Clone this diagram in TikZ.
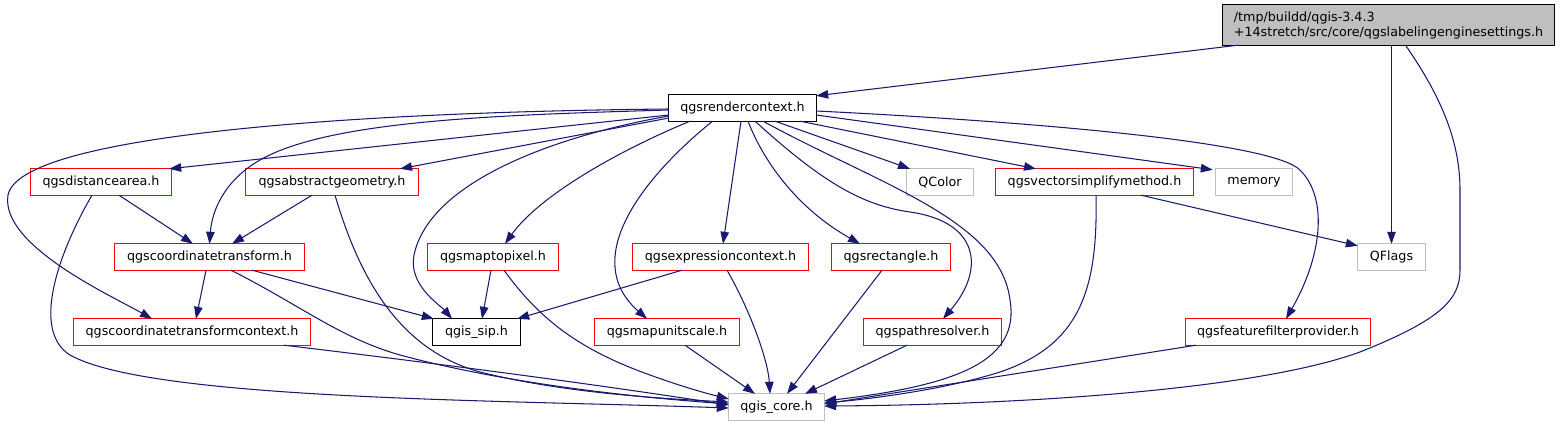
\documentclass[tikz,border=0pt]{standalone}
\usepackage{fontspec}
\setmainfont{DejaVu Sans}
\usetikzlibrary{arrows.meta,calc}
\definecolor{edgeblue}{HTML}{191970}
\definecolor{grayline}{HTML}{BFBFBF}
\definecolor{redline}{HTML}{FF0000}
\definecolor{blackline}{HTML}{000000}
\begin{document}
\begin{tikzpicture}[x=1pt,y=-1pt,
  fnode/.style={minimum height=26pt, inner sep=0pt, text=black,
                font=\fontsize{12.7}{15}\selectfont},
  frame/.style={line width=1pt},
  dep/.style={color=edgeblue, draw=edgeblue, line width=1.05pt, -{Triangle[length=12pt,width=8.5pt]}}]
\useasboundingbox (0,0) rectangle (1562,425);
% nodes
\node[fnode, minimum width=140pt] (da) at (101,182) {qgsdistancearea.h};
\node[fnode, minimum width=172pt] (ag) at (332,182) {qgsabstractgeometry.h};
\node[fnode, minimum width=66pt] (qcolor) at (940,182) {QColor};
\node[fnode, minimum width=197pt] (vs) at (1094.5,182) {qgsvectorsimplifymethod.h};
\node[fnode, minimum width=76pt] (mem) at (1254,182) {memory};
\node[fnode, minimum width=189pt] (ct) at (209.5,257) {qgscoordinatetransform.h};
\node[fnode, minimum width=130pt] (mtp) at (493,257) {qgsmaptopixel.h};
\node[fnode, minimum width=175pt] (ec) at (720.5,257) {qgsexpressioncontext.h};
\node[fnode, minimum width=118pt] (rect) at (891,257) {qgsrectangle.h};
\node[fnode, minimum width=67pt] (qflags) at (1391.5,257) {QFlags};
\node[fnode, minimum width=236pt] (ctc) at (192,332) {qgscoordinatetransformcontext.h};
\node[fnode, minimum width=144pt] (mus) at (667,332) {qgsmapunitscale.h};
\node[fnode, minimum width=137pt] (pr) at (932.5,332) {qgspathresolver.h};
\node[fnode, minimum width=184pt] (ff) at (1278,332) {qgsfeaturefilterprovider.h};
\node[fnode, minimum width=95pt] (core) at (776.5,407) {qgis\_core.h};
\node[fnode, minimum width=87pt] (sip) at (476.5,332) {qgis\_sip.h};
\node[fnode, minimum width=147pt] (rc) at (742.5,108) {qgsrendercontext.h};
\fill[grayline] (1223,5) rectangle (1554,45);
\node[fnode, minimum width=331pt, minimum height=40pt, align=left]
  (root) at (1388.5,25) {/tmp/buildd/qgis-3.4.3\\+14stretch/src/core/qgslabelingenginesettings.h};
% frames
\foreach \n in {da,ag,vs,ct,mtp,ec,rect,ctc,mus,pr,ff}
  \draw[frame, draw=redline] (\n.north west) rectangle (\n.south east);
\foreach \n in {qcolor,mem,qflags,core}
  \draw[frame, draw=grayline] (\n.north west) rectangle (\n.south east);
\foreach \n in {sip,rc,root}
  \draw[frame, draw=blackline] (\n.north west) rectangle (\n.south east);
% edges from root
\draw[dep] ([xshift=-150.5pt]root.south) -- ([yshift=-1pt]rc.north east);
\draw[dep] (root.south -| qflags.north) -- (qflags.north);
\draw[dep] ([xshift=17pt]root.south) .. controls (1440,95) and (1460,140) .. (1460,190)
  -- (1460,270) .. controls (1460,300) and (1440,320) .. (1360,352)
  .. controls (1250,392) and (1000,405) .. ([yshift=1pt]core.east);
% edges from rendercontext
\draw[dep] ([yshift=-7pt]rc.west) -- ([xshift=-2pt]da.north east);
\draw[dep] ([yshift=-10pt]rc.west) -- ([xshift=68pt]ag.north);
\draw[dep] ([yshift=-2pt]rc.west) .. controls (500,115) and (330,120) .. (260,160)
  .. controls (225,180) and (212,210) .. (ct.north);
\draw[dep] ([yshift=-1pt]rc.west) .. controls (350,112) and (20,135) .. (8,195)
  .. controls (0,245) and (110,295) .. ([xshift=-40pt]ctc.north);
\draw[dep] ([yshift=-8pt]rc.west) .. controls (560,135) and (430,180) .. (414,255)
  .. controls (408,285) and (440,305) .. ([xshift=-24.5pt]sip.north);
\draw[dep] ([xshift=-52.5pt]rc.south) .. controls (620,150) and (540,195) .. ([xshift=12pt]mtp.north);
\draw[dep] ([xshift=-30pt]rc.south) .. controls (640,180) and (580,260) .. ([xshift=-20pt]mus.north);
\draw[dep] ([xshift=-1.5pt]rc.south) -- ([xshift=2.5pt]ec.north);
\draw[dep] ([xshift=5.5pt]rc.south) .. controls (765,165) and (800,210) .. ([xshift=-31pt]rect.north);
\draw[dep] ([xshift=12.5pt]rc.south) .. controls (820,180) and (860,205) .. (910,212)
  .. controls (980,222) and (985,270) .. ([xshift=10.5pt]pr.north);
\draw[dep] ([xshift=20.5pt]rc.south) .. controls (880,185) and (1000,220) .. (1010,300)
  .. controls (1020,360) and (960,385) .. ([yshift=6pt]core.east);
\draw[dep] ([xshift=32.5pt]rc.south) -- ([xshift=-30pt]qcolor.north);
\draw[dep] ([xshift=57.5pt]rc.south) -- ([xshift=-58.5pt]vs.north);
\draw[dep] ([yshift=-7pt]rc.east) -- ([xshift=-3pt,yshift=-1pt]mem.north west);
\draw[dep] ([yshift=-3pt]rc.east) .. controls (1000,120) and (1270,140) .. (1300,170)
  .. controls (1330,200) and (1320,260) .. ([xshift=8pt]ff.north);
% second row
\draw[dep] ([xshift=18pt]da.south) -- ([xshift=-16.5pt]ct.north);
\draw[dep] ([xshift=-9pt]da.south) .. controls (60,250) and (30,330) .. (70,355)
  .. controls (150,400) and (500,400) .. ([yshift=-1pt]core.west);
\draw[dep] ([xshift=-20pt]ag.south) -- ([xshift=22.5pt]ct.north);
\draw[dep] ([xshift=3pt]ag.south) .. controls (360,280) and (400,350) .. (480,372)
  .. controls (560,392) and (650,398) .. ([yshift=5pt]core.west);
\draw[dep] ([xshift=46.5pt]vs.south) -- ([yshift=-2pt]qflags.north west);
\draw[dep] ([xshift=1.5pt]vs.south) .. controls (1098,290) and (1080,345) .. (1000,372)
  .. controls (950,388) and (880,398) .. ([yshift=4pt]core.east);
% third row
\draw[dep] ([xshift=-3.5pt]ct.south) -- ([xshift=4pt]ctc.north);
\draw[dep] ([xshift=42.5pt]ct.south) -- ([xshift=1pt]sip.north west);
\draw[dep] ([xshift=21.5pt]ct.south) .. controls (300,305) and (340,338) .. (400,355)
  .. controls (500,382) and (620,396) .. ([yshift=3pt]core.west);
\draw[dep] ([xshift=-2pt]mtp.south) -- ([xshift=5.5pt]sip.north);
\draw[dep] ([xshift=11pt]mtp.south) .. controls (540,320) and (580,350) .. (650,375)
  .. controls (680,386) and (705,393) .. ([yshift=8pt]core.west);
\draw[dep] ([xshift=-38.5pt]ec.south) -- ([xshift=-3pt]sip.north east);
\draw[dep] ([xshift=6.5pt]ec.south) .. controls (750,310) and (768,360) .. ([xshift=-6.5pt]core.north);
\draw[dep] ([xshift=-9pt]rect.south) -- ([xshift=10.5pt]core.north);
% fourth row
\draw[dep] ([xshift=92pt]ctc.south) .. controls (450,365) and (600,385) .. ([yshift=2pt]core.west);
\draw[dep] ([xshift=18pt]mus.south) -- ([xshift=-21.5pt]core.north);
\draw[dep] ([xshift=-25.5pt]pr.south) -- ([xshift=28.5pt]core.north);
\draw[dep] ([xshift=-82pt]ff.south) -- ([yshift=3pt]core.east);
\end{tikzpicture}
\end{document}
